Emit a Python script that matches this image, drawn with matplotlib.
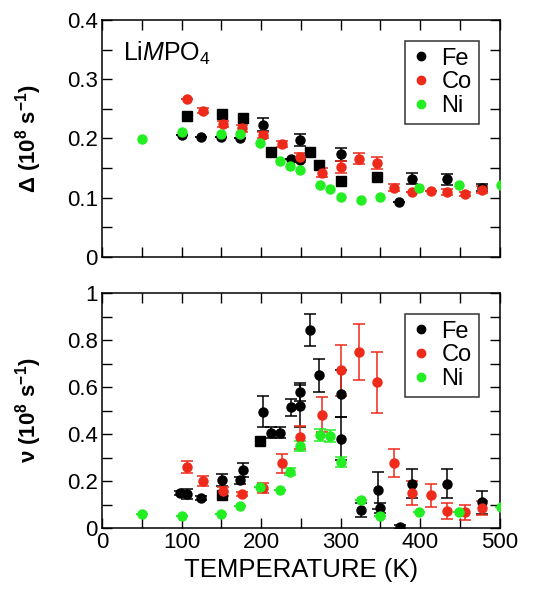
import matplotlib
matplotlib.use('Agg')
import matplotlib.pyplot as plt
from matplotlib.ticker import MultipleLocator, FuncFormatter
from matplotlib.lines import Line2D

plt.rcParams['font.family'] = ['Liberation Sans', 'DejaVu Sans']
plt.rcParams['mathtext.fontset'] = 'custom'
plt.rcParams['mathtext.rm'] = 'Liberation Sans'
plt.rcParams['mathtext.it'] = 'Liberation Sans:italic'
plt.rcParams['mathtext.bf'] = 'Liberation Sans:bold'

# ---- top panel: Delta ----
fe_d_T = [100, 125, 150, 173, 202, 238, 249, 249, 300, 373, 390, 434, 478]
fe_d = [0.206, 0.202, 0.203, 0.200, 0.223, 0.166, 0.197, 0.163, 0.173, 0.093, 0.132, 0.131, 0.117]
fe_d_err = [0, 0, 0, 0, 0.011, 0, 0.01, 0, 0.011, 0, 0.009, 0.009, 0.006]
fe_ds_T = [107, 151, 177, 213, 261, 273, 300, 346]
fe_ds = [0.237, 0.241, 0.234, 0.177, 0.177, 0.155, 0.128, 0.135]

co_d_T = [107, 127, 152, 176, 202, 226, 249, 276, 300, 323, 346, 367, 390, 413, 434, 456, 478]
co_d = [0.266, 0.247, 0.225, 0.217, 0.205, 0.190, 0.168, 0.142, 0.152, 0.166, 0.158,
        0.117, 0.109, 0.112, 0.110, 0.106, 0.113]
co_d_err = [0, 0.004, 0.005, 0.006, 0.005, 0.005, 0.008, 0.008, 0.01, 0.009, 0.01,
            0.006, 0, 0, 0.005, 0.004, 0.006]

ni_d_T = [50, 100, 150, 174, 199, 224, 236, 249, 274, 286, 300, 325, 350, 399, 449, 501]
ni_d = [0.199, 0.210, 0.207, 0.207, 0.192, 0.161, 0.154, 0.146, 0.122, 0.114, 0.101,
        0.096, 0.101, 0.117, 0.121, 0.122]

# ---- bottom panel: nu ----
fe_v_T = [98, 107, 125, 151, 174, 177, 202, 213, 224, 238, 249, 249, 262, 273, 300, 300,
          325, 347, 350, 374, 390, 434, 478]
fe_v = [0.150, 0.146, 0.129, 0.204, 0.203, 0.247, 0.496, 0.407, 0.407, 0.514, 0.579, 0.519,
        0.843, 0.650, 0.571, 0.381, 0.079, 0.161, 0.086, 0.005, 0.190, 0.190, 0.110]
fe_v_err = [0.01, 0.02, 0.01, 0.025, 0.015, 0.03, 0.065, 0.025, 0.025, 0.035, 0.04, 0.09,
            0.07, 0.07, 0.1, 0.09, 0.03, 0.08, 0.02, 0.01, 0.06, 0.06, 0.05]
fe_vs_T = [151, 199]
fe_vs = [0.143, 0.371]

co_v_T = [107, 127, 152, 176, 202, 226, 249, 276, 300, 323, 346, 367, 390, 413, 434, 456, 478]
co_v = [0.260, 0.200, 0.157, 0.146, 0.171, 0.276, 0.386, 0.483, 0.671, 0.750, 0.621,
        0.276, 0.150, 0.140, 0.074, 0.067, 0.086]
co_v_err = [0.025, 0.02, 0.02, 0.01, 0.02, 0.04, 0.05, 0.075, 0.11, 0.12, 0.13,
            0.06, 0.05, 0.05, 0.035, 0.03, 0.03]

ni_v_T = [50, 100, 150, 174, 199, 224, 236, 249, 274, 287, 300, 325, 350, 399, 449, 501]
ni_v = [0.061, 0.053, 0.060, 0.096, 0.174, 0.161, 0.240, 0.350, 0.396, 0.393, 0.281,
        0.121, 0.050, 0.071, 0.071, 0.090]
ni_v_err = [0, 0, 0, 0, 0, 0, 0.015, 0.02, 0.025, 0.025, 0.02, 0, 0, 0, 0, 0]

BLACK = '#000000'
RED = '#ee2a1a'
GREEN = '#22ee22'
ms = 6.5

fig = plt.figure(figsize=(5.34, 6.03), dpi=100)
ax1 = fig.add_axes([0.191, 0.574, 0.745, 0.393])
ax2 = fig.add_axes([0.191, 0.124, 0.745, 0.390])


def style_axis(ax, ymax, ymajor, yminor):
    ax.set_xlim(0, 500)
    ax.set_ylim(0, ymax)
    ax.xaxis.set_major_locator(MultipleLocator(100))
    ax.xaxis.set_minor_locator(MultipleLocator(50))
    ax.yaxis.set_major_locator(MultipleLocator(ymajor))
    ax.yaxis.set_minor_locator(MultipleLocator(yminor))
    ax.yaxis.set_major_formatter(FuncFormatter(lambda v, p: '%g' % round(v, 3)))
    ax.tick_params(which='both', direction='in', top=True, right=True, labelsize=16)
    ax.tick_params(which='major', length=7, width=1, pad=3)
    ax.tick_params(which='minor', length=7, width=1)
    for s in ax.spines.values():
        s.set_linewidth(1.1)


def pts(ax, x, y, err, color, marker='o'):
    ax.errorbar(x, y, yerr=err, fmt=marker, color=color, ms=ms, mec=color,
                ecolor=color, elinewidth=1.1, capsize=4, capthick=1.1, zorder=3)


def add_legend(ax):
    handles = [Line2D([], [], ls='', marker='o', ms=6, color=c) for c in (BLACK, RED, GREEN)]
    leg = ax.legend(handles, ['Fe', 'Co', 'Ni'], loc='upper right',
                    fontsize=17, frameon=True, fancybox=False, edgecolor='black',
                    handlelength=0.8, handletextpad=0.45, borderpad=0.3,
                    labelspacing=0.08, borderaxespad=0, bbox_to_anchor=(0.947, 0.913))
    leg.get_frame().set_linewidth(1.1)


# top
pts(ax1, fe_ds_T, fe_ds, None, BLACK, marker='s')
pts(ax1, fe_d_T, fe_d, fe_d_err, BLACK)
pts(ax1, co_d_T, co_d, co_d_err, RED)
pts(ax1, ni_d_T, ni_d, None, GREEN)
style_axis(ax1, 0.4, 0.1, 0.05)
ax1.tick_params(labelbottom=False)
ax1.set_ylabel(r'$\mathbf{\Delta}$ (10$^{\mathbf{8}}$ s$^{\mathbf{-1}}$)', fontsize=16,
               fontweight='bold')
ax1.yaxis.set_label_coords(-0.145, 0.5)
ax1.text(27, 0.343, r'Li$\it{M}$PO$_4$', fontsize=18, va='center')
add_legend(ax1)

# bottom
pts(ax2, fe_vs_T, fe_vs, None, BLACK, marker='s')
pts(ax2, fe_v_T, fe_v, fe_v_err, BLACK)
pts(ax2, co_v_T, co_v, co_v_err, RED)
pts(ax2, ni_v_T, ni_v, ni_v_err, GREEN)
style_axis(ax2, 1.0, 0.2, 0.1)
ax2.set_ylabel('ν (10$^{\\mathbf{8}}$ s$^{\\mathbf{-1}}$)', fontsize=16,
               fontweight='bold')
ax2.yaxis.set_label_coords(-0.145, 0.5)
ax2.set_xlabel('TEMPERATURE (K)', fontsize=18.5, labelpad=3)
add_legend(ax2)

fig.savefig('out.png', dpi=100)
